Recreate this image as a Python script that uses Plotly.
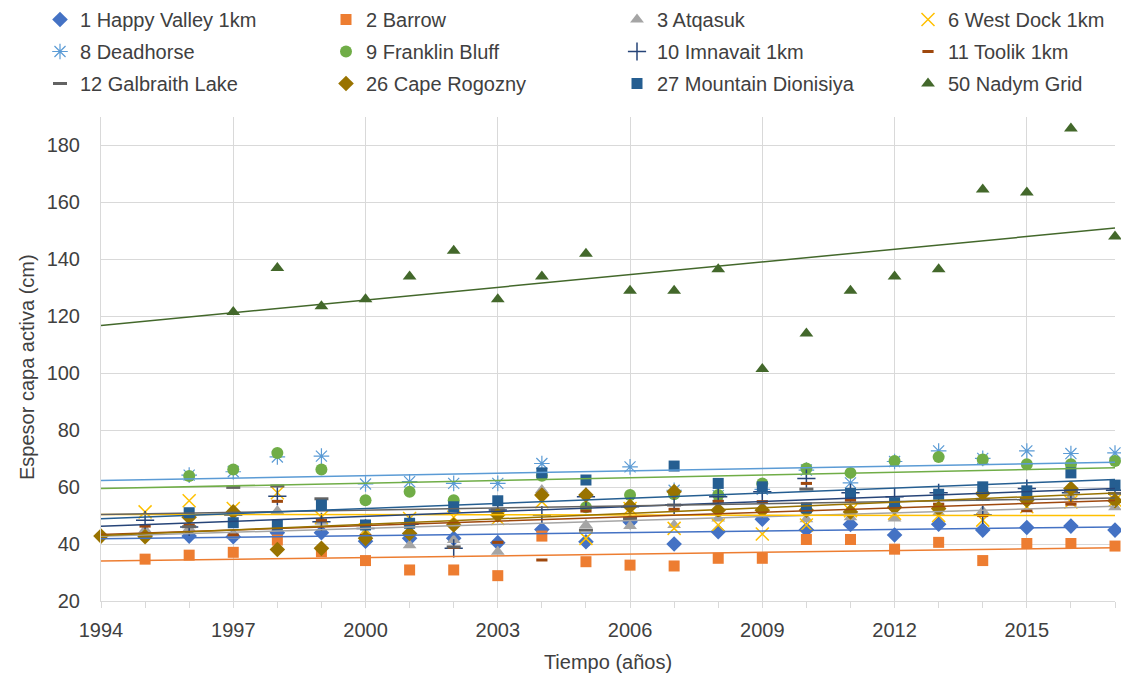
import numpy as np
import plotly.graph_objects as go

years = list(range(1994, 2018))
N = None

happy_valley = [N, 43, 42.8, 42.6, 44, 44, 41, 42, 42, 40.5, 45.1, 40.8, 47.8, 40, 44.3, 48.7, 45, 46.9, 43.2, 47, 44.9, 45.8, 46.3, 44.9]
barrow = [N, 34.7, 36.1, 37.1, 41.4, 37.3, 34.2, 30.9, 30.9, 28.9, 42.8, 33.8, 32.6, 32.3, 35, 35, 41.6, 41.6, 38.2, 40.6, 34.2, 40.2, 40.2, 39.3]
atqasuk = [N, 45, 45.5, 43, 51.6, 47.8, 44, 39.6, 41.4, 37.3, 59, 46.7, 46.3, 46.7, 49, 53, 48.7, 49.4, 49, 51, 51.6, 55, 56.4, 52.9]
west_dock = [N, 51.3, 55.2, 52.5, 58, 49.4, 45, 49, 49.4, 49, 54.9, 42, 52.5, 45.5, 46.7, 43.5, 46.7, 51.7, 50.8, 50, 48.4, 53.1, 54.8, 55.4]
deadhorse = [N, N, 64.2, 65.4, 70.6, 70.9, 61.1, 61.9, 61.3, 61.3, 68.3, N, 67.1, 58.9, 57, 59.2, 66, 61.5, 69, 72.7, 70.1, 72.7, 71.8, 72]
franklin = [N, N, 63.9, 66.2, 72, 66.2, 55.4, 58.4, 55.4, N, 64, 52.9, 57.2, 57.5, 57.2, 61.3, 66.5, 65, 69.2, 70.6, 69.7, 68, 68, 69.2]
imnavait = [N, 48.4, 46, 50.2, 56.8, 47.8, 45.5, 47, 38.5, 52, 50.2, 56.6, 53.1, 53.7, 56.6, 58.4, 63, 58, 56.6, 58, 50.2, 59.5, 58, 58.9]
toolik = [N, 46.3, 46.7, 43.2, 55, 48.4, 43, 47, 38.8, 40.6, 34.4, 51.6, 48.7, 52.2, 55, 54.9, 61.3, 55.4, 53, 54, 50, 51.7, 54, N]
galbraith = [N, N, 46.1, 59.9, 60.4, 55.9, N, N, 39, 52, N, 44.9, 49, 53.7, N, N, 59.3, N, N, N, 55.7, 56, 58.4, 57.8]
cape_rogozny = [42.8, 42.6, 49.4, 51.3, 38.1, 38.5, 42, 43.7, 46.7, 50.2, 57.2, 57.2, 53.3, 58.4, 51.9, 51.9, 51.9, 51.3, 52.9, 52.5, 57.8, 55.4, 59.5, 55.2]
mountain_dionisiya = [N, N, 51, 47.5, 46.7, 53.7, 46.7, 47.3, 53.1, 55.2, 65, 62.5, N, 67.4, 61.3, 60.1, 52.7, 57.8, 54.5, 57.5, 60.1, 58.7, 65, 60.7]
nadym_grid = [N, N, N, 121.5, 137, 123.5, 126, 134, 143, 126, 134, 142, 129, 129, 136.5, 101.5, 114, 129, 134, 136.5, 164.5, 163.5, 186, 148]

x_ticks = list(range(1994, 2018, 3))
y_ticks = list(range(20, 181, 20))

series = [
    ("1 Happy Valley 1km", happy_valley, "#4472C4", "diamond", 12, 0, "legend"),
    ("2 Barrow", barrow, "#ED7D31", "square", 11, 0, "legend2"),
    ("3 Atqasuk", atqasuk, "#A5A5A5", "triangle-up", 12, 0, "legend3"),
    ("6 West Dock 1km", west_dock, "#FFC000", "x-thin-open", 13, 1.5, "legend4"),
    ("8 Deadhorse", deadhorse, "#5B9BD5", "asterisk-open", 13, 1.2, "legend"),
    ("9 Franklin Bluff", franklin, "#70AD47", "circle", 12, 0, "legend2"),
    ("10 Imnavait 1km", imnavait, "#264478", "cross-thin-open", 13, 1.5, "legend3"),
    ("11 Toolik 1km", toolik, "#9E480E", "line-ew-open", 8, 3, "legend4"),
    ("12 Galbraith Lake", galbraith, "#636363", "line-ew-open", 10, 3, "legend"),
    ("26 Cape Rogozny", cape_rogozny, "#997300", "diamond", 12, 0, "legend2"),
    ("27 Mountain Dionisiya", mountain_dionisiya, "#255E91", "square", 11, 0, "legend3"),
    ("50 Nadym Grid", nadym_grid, "#43682B", "triangle-up", 12, 0, "legend4"),
]

fig = go.Figure()

for i, (name, vals, color, sym, size, lw, leg) in enumerate(series):
    if lw > 0:
        marker = dict(symbol=sym, size=size, color=color, line=dict(color=color, width=lw))
    else:
        marker = dict(symbol=sym, size=size, color=color, line=dict(width=0))
    fig.add_trace(go.Scatter(
        x=years, y=vals, mode="markers", name=name, marker=marker,
        legend=leg, legendgroup=name, cliponaxis=False,
    ))

for name, vals, color, sym, size, lw, leg in series:
    xs = np.array([y for y, v in zip(years, vals) if v is not None], dtype=float)
    ys = np.array([v for v in vals if v is not None], dtype=float)
    k, b = np.polyfit(xs, ys, 1)
    xe = [years[0], years[-1]]
    fig.add_trace(go.Scatter(
        x=xe, y=[k * xe[0] + b, k * xe[1] + b], mode="lines",
        line=dict(color=color, width=1.5), showlegend=False, hoverinfo="skip",
    ))

font_family = "Liberation Sans, Arial, sans-serif"
text_color = "#404040"
legend_common = dict(
    xref="container", yref="container", orientation="v",
    traceorder="grouped", tracegroupgap=3, bgcolor="rgba(0,0,0,0)",
    font=dict(family=font_family, size=20, color=text_color),
    yanchor="top", xanchor="left", itemwidth=30,
)
col_x = [40, 326, 617, 908]
fig.update_layout(
    width=1121, height=673,
    paper_bgcolor="white", plot_bgcolor="white",
    margin=dict(l=101, r=6, t=117, b=72, autoexpand=False),
    font=dict(family=font_family, size=18, color=text_color),
    legend=dict(x=col_x[0] / 1121, y=1.0, **legend_common),
    legend2=dict(x=col_x[1] / 1121, y=1.0, **legend_common),
    legend3=dict(x=col_x[2] / 1121, y=1.0, **legend_common),
    legend4=dict(x=col_x[3] / 1121, y=1.0, **legend_common),
    xaxis=dict(
        range=[1994, 2017], tickvals=x_ticks, showgrid=True, gridcolor="#D9D9D9", gridwidth=1,
        showline=True, linecolor="#D9D9D9", linewidth=1, zeroline=False,
        ticks="outside", ticklen=6, tickcolor="#D9D9D9", ticklabelstandoff=5,
        minor=dict(dtick=1, tick0=1994, ticks="outside", ticklen=6, tickcolor="#D9D9D9", showgrid=False),
        tickfont=dict(size=20, color=text_color),
        title=dict(text="Tiempo (años)", font=dict(size=20, color=text_color), standoff=14),
    ),
    yaxis=dict(
        range=[20, 190], tickvals=y_ticks, showgrid=True, gridcolor="#D9D9D9", gridwidth=1,
        showline=True, linecolor="#D9D9D9", zeroline=False, ticks="",
        tickfont=dict(size=20, color=text_color), ticklabelstandoff=16,
    ),
    annotations=[dict(
        text="Espesor capa activa (cm)", textangle=-90, showarrow=False,
        xref="paper", yref="paper", x=-74 / 1014, y=(601 - 367) / 484,
        xanchor="center", yanchor="middle",
        font=dict(family=font_family, size=20, color=text_color),
    )],
    showlegend=True,
)

fig.write_html("out.html")
